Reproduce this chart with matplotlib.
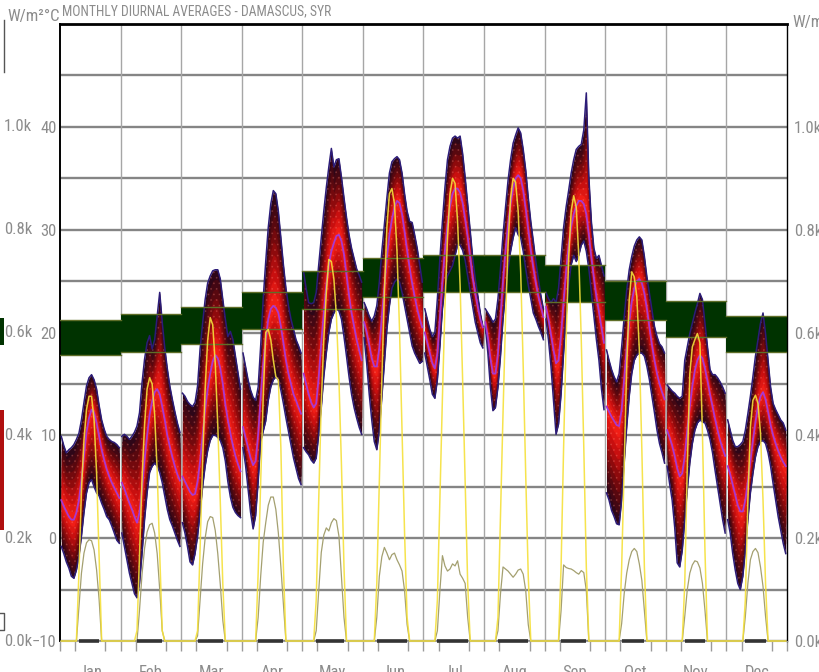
import numpy as np
import matplotlib
matplotlib.use("Agg")
import matplotlib.pyplot as plt
import matplotlib.transforms as mtransforms
from matplotlib.colors import LinearSegmentedColormap
from matplotlib.patches import Rectangle
from matplotlib.lines import Line2D

FONT = ["Liberation Sans Narrow", "Roboto Condensed", "Liberation Sans", "DejaVu Sans"]
plt.rcParams["font.family"] = FONT
plt.rcParams["hatch.linewidth"] = 0.6

months = ["Jan", "Feb", "Mar", "Apr", "May", "Jun",
          "Jul", "Aug", "Sep", "Oct", "Nov", "Dec"]

# hourly dry bulb temperature, deg C, one row per month (hours 0..23)
temp_max = [
    [9.9, 9.0, 8.3, 8.6, 8.8, 9.1, 9.6, 10.2, 11.5, 13.2, 14.8, 15.6, 15.9, 15.4, 14.5, 12.9, 11.5, 10.6, 9.9, 9.6, 9.4, 9.3, 9.1, 8.8],
    [9.9, 10.1, 9.9, 9.6, 9.9, 10.3, 10.9, 12.2, 15.1, 17.4, 19.0, 19.7, 18.4, 19.3, 21.6, 23.9, 21.0, 18.5, 16.5, 14.8, 13.5, 12.3, 11.2, 10.3],
    [14.1, 13.8, 13.3, 13.0, 12.8, 13.2, 14.8, 18.4, 20.9, 23.2, 24.8, 25.5, 26.0, 26.1, 26.1, 25.2, 23.2, 21.3, 19.6, 20.1, 19.3, 17.7, 16.1, 14.5],
    [18.0, 16.7, 15.4, 14.4, 13.7, 13.4, 14.7, 18.7, 23.3, 26.9, 30.2, 32.5, 33.8, 33.5, 31.8, 29.2, 26.6, 24.3, 22.6, 21.3, 20.3, 19.3, 18.7, 18.0],
    [25.9, 24.3, 22.9, 22.8, 22.9, 23.9, 26.6, 29.2, 31.8, 34.1, 36.1, 37.9, 36.1, 36.8, 36.9, 35.1, 33.1, 31.2, 29.5, 28.2, 27.2, 26.2, 25.6, 24.9],
    [22.9, 22.3, 21.6, 21.1, 21.6, 22.6, 24.9, 27.9, 30.5, 33.1, 35.5, 36.6, 36.9, 37.1, 36.8, 35.5, 33.5, 31.8, 30.8, 30.7, 29.5, 28.2, 26.6, 24.9],
    [22.3, 21.3, 20.3, 19.6, 20.0, 23.3, 27.2, 30.8, 34.1, 36.8, 38.1, 38.9, 39.1, 38.9, 39.1, 37.4, 35.1, 32.5, 29.9, 27.2, 25.2, 23.6, 21.9, 20.6],
    [22.3, 21.9, 21.5, 21.0, 21.3, 23.3, 26.2, 29.5, 32.2, 34.8, 36.8, 38.4, 39.2, 39.9, 39.4, 37.8, 35.8, 33.1, 30.8, 28.9, 26.9, 25.2, 23.6, 22.3],
    [23.9, 23.3, 22.9, 23.3, 22.9, 24.3, 27.2, 30.2, 32.2, 33.8, 35.5, 36.8, 37.8, 38.1, 38.3, 39.7, 43.3, 35.1, 30.8, 28.2, 27.2, 27.5, 26.5, 25.5],
    [18.3, 17.3, 16.4, 15.7, 15.2, 16.0, 18.6, 21.5, 24.1, 26.1, 27.4, 28.4, 29.0, 29.3, 29.0, 27.4, 25.4, 23.8, 22.2, 20.6, 19.6, 18.9, 18.6, 18.0],
    [14.9, 14.6, 14.3, 14.1, 13.8, 13.6, 13.8, 17.3, 18.6, 19.9, 20.9, 21.9, 22.8, 23.8, 23.2, 20.9, 18.6, 16.4, 15.9, 15.9, 15.6, 15.2, 14.7, 14.1],
    [11.5, 10.5, 9.5, 8.9, 8.9, 9.1, 9.4, 10.5, 12.1, 13.8, 15.7, 17.7, 19.3, 20.9, 21.9, 19.9, 17.3, 14.7, 13.1, 12.5, 12.0, 11.5, 11.2, 10.5],
]
temp_min = [
    [-0.8, -1.5, -2.3, -2.9, -3.7, -3.9, -3.1, -1.8, 0.2, 2.5, 4.4, 5.4, 5.7, 5.0, 4.4, 4.1, 3.4, 2.8, 2.1, 1.8, 1.2, 0.5, -0.2, -0.5],
    [0.5, -0.8, -2.1, -3.4, -4.4, -5.4, -5.8, -4.4, -1.5, 1.8, 4.4, 6.4, 7.0, 7.3, 7.0, 6.4, 5.4, 4.1, 2.8, 1.8, 1.2, 0.5, -0.2, -0.8],
    [1.5, 0.5, -0.8, -2.3, -2.6, -1.5, 0.2, 2.5, 5.0, 7.0, 8.5, 9.5, 10.0, 10.0, 9.8, 9.5, 8.8, 7.5, 5.5, 4.0, 3.0, 2.5, 2.2, 2.0],
    [8.8, 7.1, 4.8, 2.5, 0.9, 2.2, 5.5, 9.4, 10.4, 11.4, 13.4, 14.7, 15.4, 15.7, 15.4, 14.4, 13.1, 11.7, 10.4, 9.1, 7.8, 6.8, 5.8, 5.2],
    [8.8, 8.4, 8.1, 7.6, 7.3, 7.8, 10.1, 12.7, 15.7, 18.0, 20.0, 21.3, 21.9, 22.3, 22.1, 21.3, 19.6, 17.7, 15.7, 14.0, 12.7, 11.7, 10.8, 10.1],
    [19.5, 17.0, 14.0, 11.5, 9.4, 8.6, 10.4, 13.7, 17.0, 20.3, 22.6, 24.3, 24.9, 25.2, 24.9, 23.9, 22.6, 21.3, 20.0, 18.7, 18.0, 17.5, 17.0, 17.2],
    [18.0, 16.7, 15.4, 14.0, 13.6, 15.4, 18.7, 22.3, 24.5, 25.5, 26.0, 26.5, 27.5, 28.5, 28.5, 28.0, 27.0, 25.5, 24.0, 22.5, 21.0, 20.0, 19.0, 18.5],
    [20.6, 18.0, 14.7, 12.4, 12.7, 14.7, 17.7, 21.3, 23.9, 26.2, 27.9, 29.2, 30.2, 29.5, 29.2, 27.9, 26.2, 24.6, 23.3, 21.9, 21.3, 20.6, 20.0, 19.3],
    [21.3, 19.3, 16.7, 13.4, 10.1, 11.1, 14.0, 18.0, 21.6, 24.6, 26.6, 27.5, 26.9, 27.5, 28.5, 28.9, 27.9, 26.2, 23.9, 21.6, 19.3, 17.3, 14.5, 12.5],
    [4.4, 3.7, 2.7, 2.1, 1.4, 1.3, 3.7, 7.3, 10.8, 13.8, 16.0, 17.3, 17.8, 18.0, 18.0, 17.7, 16.7, 15.4, 13.8, 12.2, 10.5, 9.2, 8.3, 7.3],
    [7.0, 5.3, 3.7, 1.1, -2.4, -2.8, -1.2, 1.8, 4.7, 7.3, 9.2, 10.5, 11.2, 11.5, 11.3, 11.2, 10.5, 9.6, 8.3, 6.6, 5.0, 3.4, 1.8, 0.5],
    [1.8, 0.5, -1.5, -3.1, -4.4, -5.0, -3.7, -1.2, 1.8, 4.4, 6.3, 7.9, 8.9, 9.4, 9.5, 9.2, 8.3, 7.0, 5.3, 3.7, 2.1, 0.8, -0.5, -1.5],
]
temp_avg = [
    [3.7, 3.1, 2.6, 2.1, 1.8, 1.8, 2.5, 3.7, 5.7, 8.0, 10.3, 11.7, 12.5, 12.2, 11.2, 9.9, 8.6, 7.6, 6.7, 6.0, 5.4, 4.9, 4.4, 3.9],
    [5.4, 4.8, 4.1, 3.4, 2.8, 2.1, 1.5, 2.5, 4.8, 7.6, 10.0, 12.0, 13.3, 14.2, 14.5, 14.0, 12.8, 11.5, 10.0, 8.9, 7.9, 7.0, 6.2, 5.6],
    [6.0, 5.5, 5.0, 4.5, 4.2, 4.3, 5.5, 7.5, 10.0, 12.5, 14.5, 16.0, 17.2, 17.8, 17.5, 16.5, 15.0, 13.0, 11.5, 10.2, 9.0, 8.0, 7.2, 6.5],
    [10.8, 9.8, 8.8, 7.8, 7.1, 7.5, 10.1, 13.7, 17.0, 19.3, 21.3, 22.3, 22.6, 22.4, 21.9, 20.6, 19.0, 17.3, 16.0, 15.0, 14.0, 13.4, 12.7, 12.1],
    [16.0, 15.0, 14.0, 13.2, 12.7, 13.1, 15.7, 19.0, 21.9, 24.6, 26.6, 27.9, 28.7, 29.4, 29.5, 28.9, 27.6, 25.6, 23.6, 21.9, 20.6, 19.3, 18.3, 17.3],
    [21.0, 20.0, 18.8, 17.5, 16.7, 16.7, 18.5, 21.5, 24.5, 27.3, 29.5, 31.0, 32.2, 32.8, 32.6, 31.5, 29.8, 28.0, 26.3, 24.8, 23.5, 22.3, 21.3, 20.5],
    [20.0, 19.0, 18.0, 17.0, 16.5, 18.0, 21.5, 25.0, 28.0, 30.5, 32.3, 33.5, 34.0, 34.0, 33.6, 32.6, 31.0, 29.3, 27.3, 25.3, 23.8, 22.5, 21.3, 20.5],
    [21.0, 19.5, 17.5, 16.0, 16.0, 18.0, 21.5, 25.0, 28.0, 30.5, 32.5, 34.0, 35.0, 35.3, 35.0, 33.8, 32.0, 30.0, 28.0, 26.3, 24.8, 23.5, 22.5, 21.5],
    [22.5, 21.3, 19.8, 18.3, 17.0, 17.3, 19.8, 23.0, 26.0, 28.5, 30.3, 31.5, 32.3, 32.8, 32.8, 32.5, 31.5, 29.5, 27.3, 25.3, 23.5, 22.0, 20.5, 19.0],
    [12.8, 12.3, 11.8, 11.4, 11.0, 10.9, 12.5, 15.5, 18.5, 21.0, 23.0, 24.3, 25.0, 25.2, 24.8, 23.8, 22.3, 20.5, 18.8, 17.3, 16.0, 15.0, 14.2, 13.5],
    [10.5, 9.8, 9.0, 8.0, 6.8, 6.0, 6.3, 8.0, 10.5, 12.8, 14.8, 16.3, 17.3, 17.8, 17.5, 16.5, 15.3, 14.0, 12.8, 11.6, 10.5, 9.5, 8.7, 8.0],
    [7.0, 6.2, 5.2, 4.2, 3.2, 2.6, 2.6, 3.7, 5.5, 7.5, 9.5, 11.3, 12.8, 13.8, 14.2, 13.5, 12.3, 11.0, 10.0, 9.2, 8.5, 7.9, 7.4, 7.0],
]

# hourly radiation, W/m2
rad_global = [
    [0, 0, 0, 0, 0, 0, 0, 132, 294, 391, 450, 476, 476, 430, 326, 164, 0, 0, 0, 0, 0, 0, 0, 0],
    [0, 0, 0, 0, 0, 0, 20, 170, 315, 420, 490, 512, 500, 440, 330, 170, 20, 0, 0, 0, 0, 0, 0, 0],
    [0, 0, 0, 0, 0, 0, 20, 180, 350, 490, 585, 629, 615, 540, 420, 270, 110, 0, 0, 0, 0, 0, 0, 0],
    [0, 0, 0, 0, 0, 0, 132, 310, 474, 600, 606, 586, 546, 514, 508, 376, 144, 0, 0, 0, 0, 0, 0, 0],
    [0, 0, 0, 0, 0, 80, 276, 462, 586, 678, 742, 738, 704, 632, 508, 342, 144, 0, 0, 0, 0, 0, 0, 0],
    [0, 0, 0, 0, 0, 112, 310, 508, 678, 804, 870, 880, 850, 758, 606, 408, 210, 46, 0, 0, 0, 0, 0, 0],
    [0, 0, 0, 0, 0, 80, 276, 474, 652, 784, 870, 900, 890, 816, 692, 508, 310, 112, 0, 0, 0, 0, 0, 0],
    [0, 0, 0, 0, 0, 46, 244, 442, 626, 770, 862, 900, 892, 836, 718, 534, 322, 126, 0, 0, 0, 0, 0, 0],
    [0, 0, 0, 0, 0, 0, 144, 376, 586, 744, 836, 866, 844, 750, 586, 376, 144, 0, 0, 0, 0, 0, 0, 0],
    [0, 0, 0, 0, 0, 0, 144, 340, 534, 664, 718, 708, 670, 566, 372, 144, 0, 0, 0, 0, 0, 0, 0, 0],
    [0, 0, 0, 0, 0, 0, 0, 112, 340, 520, 572, 586, 598, 580, 404, 176, 0, 0, 0, 0, 0, 0, 0, 0],
    [0, 0, 0, 0, 0, 0, 0, 80, 274, 416, 468, 478, 462, 404, 274, 112, 0, 0, 0, 0, 0, 0, 0, 0],
]
rad_diffuse = [
    [0, 0, 0, 0, 0, 0, 0, 66, 132, 171, 191, 197, 195, 177, 138, 80, 0, 0, 0, 0, 0, 0, 0, 0],
    [0, 0, 0, 0, 0, 0, 0, 60, 130, 180, 212, 226, 229, 210, 170, 100, 20, 0, 0, 0, 0, 0, 0, 0],
    [0, 0, 0, 0, 0, 0, 10, 80, 150, 200, 232, 242, 240, 215, 170, 110, 40, 0, 0, 0, 0, 0, 0, 0],
    [0, 0, 0, 0, 0, 0, 46, 126, 192, 230, 264, 280, 280, 256, 210, 144, 72, 0, 0, 0, 0, 0, 0, 0],
    [0, 0, 0, 0, 0, 20, 98, 172, 206, 220, 214, 230, 238, 234, 204, 124, 46, 0, 0, 0, 0, 0, 0, 0],
    [0, 0, 0, 0, 0, 46, 126, 164, 182, 171, 158, 168, 171, 158, 148, 136, 98, 32, 0, 0, 0, 0, 0, 0],
    [0, 0, 0, 0, 0, 20, 98, 166, 146, 136, 140, 150, 146, 156, 130, 122, 112, 46, 0, 0, 0, 0, 0, 0],
    [0, 0, 0, 0, 0, 20, 92, 144, 140, 136, 130, 124, 130, 138, 140, 130, 98, 32, 0, 0, 0, 0, 0, 0],
    [0, 0, 0, 0, 0, 0, 59, 148, 143, 141, 140, 137, 133, 130, 137, 133, 98, 0, 0, 0, 0, 0, 0, 0],
    [0, 0, 0, 0, 0, 0, 34, 92, 132, 158, 174, 180, 174, 150, 118, 60, 0, 0, 0, 0, 0, 0, 0, 0],
    [0, 0, 0, 0, 0, 0, 0, 48, 100, 132, 148, 156, 154, 142, 112, 60, 0, 0, 0, 0, 0, 0, 0, 0],
    [0, 0, 0, 0, 0, 0, 0, 48, 112, 158, 174, 180, 172, 144, 106, 48, 0, 0, 0, 0, 0, 0, 0, 0],
]

# comfort band per month, deg C
comfort_low = [17.8, 18.1, 18.9, 20.3, 22.3, 23.5, 23.9, 23.9, 23.0, 21.2, 19.6, 18.1]
comfort_high = [21.2, 21.8, 22.5, 23.9, 26.0, 27.2, 27.5, 27.5, 26.6, 25.0, 23.1, 21.6]

GREY = "#8c8c8c"
W, H = 820, 672
FS = 12

fig = plt.figure(figsize=(W / 100, H / 100), dpi=100)
ax = fig.add_axes([60 / W, 31 / H, 727 / W, 617 / H])
ax.set_xlim(0, 288)
ax.set_ylim(-10, 50)

# grid
ax.set_axisbelow(True)
ax.set_yticks(np.arange(-10, 41, 10))
ax.set_yticks(np.arange(-10, 51, 5), minor=True)
ax.grid(axis="y", which="both", color="#858585", lw=1.7)
for m in range(1, 12):
    ax.axvline(m * 24, color="#a6a6a6", lw=1.0, zorder=0.6)

# comfort zone
for m in range(12):
    ax.add_patch(Rectangle((m * 24, comfort_low[m]), 24, comfort_high[m] - comfort_low[m],
                           facecolor="#003300", edgecolor="none", zorder=1.5))

band_cmap = LinearSegmentedColormap.from_list(
    "band", ["#2e0618", "#58080f", "#8e0a0c", "#c80f0f", "#f01e16"])
N = 9
hours = np.arange(24)
for m in range(12):
    x = m * 24 + 0.5 + hours
    hi = np.array(temp_max[m])
    lo = np.array(temp_min[m])
    mid = np.clip(np.array(temp_avg[m]), lo, hi)
    for k in range(N):
        f = 1 - k / N
        ax.fill_between(x, mid - (mid - lo) * f, mid + (hi - mid) * f,
                        color=band_cmap(k / (N - 1)), lw=0, zorder=3)
    ax.fill_between(x, lo, hi, facecolor="none", edgecolor=(1, 0.55, 0.5, 0.22),
                    hatch="...", lw=0, zorder=3.1)
    ax.plot(x, hi, color="#2c1c78", lw=1.1, zorder=3.2)
    ax.plot(x, lo, color="#2c1c78", lw=1.1, zorder=3.2)
    ax.plot(x, mid, color="#a838d0", lw=1.3, zorder=3.3)
    # comfort box edges show over the band
    ax.plot([m * 24, m * 24 + 24], [comfort_low[m]] * 2, color="#5f6e28", lw=1.0, zorder=3.4)
    ax.plot([m * 24, m * 24 + 24], [comfort_high[m]] * 2, color="#5f6e28", lw=1.0, zorder=3.4)

# radiation on W/m2 axis
ax2 = ax.twinx()
ax2.set_ylim(0, 1200)
xs = np.concatenate([m * 24 + 0.5 + hours for m in range(12)])
ax2.plot(xs, np.concatenate(rad_diffuse), color="#a4a070", lw=0.9, zorder=4, clip_on=False)
ax2.plot(xs, np.concatenate(rad_global), color="#f5e03a", lw=1.1, alpha=0.9, zorder=5, clip_on=False)
for m in range(12):
    g = np.nonzero(rad_global[m])[0]
    ax2.plot([m * 24 + 0.5 + g[0], m * 24 + 0.5 + g[-1]], [0, 0], color="#333333",
             lw=2.6, solid_capstyle="butt", clip_on=False, zorder=6)

# axes styling
for s in ["top", "left", "right", "bottom"]:
    ax2.spines[s].set_visible(False)
ax.spines["top"].set_linewidth(2.0)
ax.spines["left"].set_linewidth(1.4)
ax.spines["right"].set_linewidth(1.0)
ax.spines["bottom"].set_color("#9a9a9a")

ax.set_xticks(np.arange(12) * 24 + 12, months)
ax.set_xticks(np.arange(0, 289, 6), minor=True)
ax.tick_params(axis="x", which="major", length=0, pad=17, labelsize=FS, labelcolor=GREY)
ax.tick_params(axis="x", which="minor", length=7.5, width=1, color="#9a9a9a", direction="out")
ax.tick_params(axis="y", which="both", length=0, pad=2.5, labelsize=FS, labelcolor=GREY)

wticks = np.arange(0, 1001, 200)
ax2.set_yticks(wticks, [f"{v / 1000:.1f}k" for v in wticks])
ax2.tick_params(axis="y", length=0, pad=5, labelsize=FS, labelcolor=GREY)

# left W/m2 scale
trans = mtransforms.blended_transform_factory(fig.transFigure, ax2.transData)
for v in wticks:
    ax2.text(32 / W, v, f"{v / 1000:.1f}k", transform=trans, ha="right", va="center",
             fontsize=FS, color=GREY, clip_on=False)

# header texts
fig.text(62 / W, 1 - 15 / H, "MONTHLY DIURNAL AVERAGES - DAMASCUS, SYR",
         fontsize=9.8, color=GREY, ha="left", va="baseline")
fig.text(44 / W, 1 - 21 / H, "W/m²", fontsize=FS, color=GREY, ha="right", va="baseline")
fig.text(60 / W, 1 - 21 / H, "°C", fontsize=FS, color=GREY, ha="right", va="baseline")
fig.text(792 / W, 1 - 27 / H, "W/m²", fontsize=FS, color=GREY, ha="left", va="baseline")

# clipped remains of the left panel
fig.add_artist(Line2D([3.5 / W] * 2, [1 - 20 / H, 1 - 72 / H], color="#555555", lw=1))
fig.add_artist(Line2D([0, 3.5 / W, 3.5 / W, 0], [1 - 613 / H, 1 - 613 / H, 1 - 630 / H, 1 - 630 / H],
                      color="#555555", lw=1))
fig.add_artist(Rectangle((0, 1 - 345 / H), 4 / W, 27 / H, transform=fig.transFigure,
                         facecolor="#003300", edgecolor="none"))
fig.add_artist(Rectangle((0, 1 - 530 / H), 4 / W, 120 / H, transform=fig.transFigure,
                         facecolor="#b01010", edgecolor="none"))

fig.savefig("out.png", dpi=100)
